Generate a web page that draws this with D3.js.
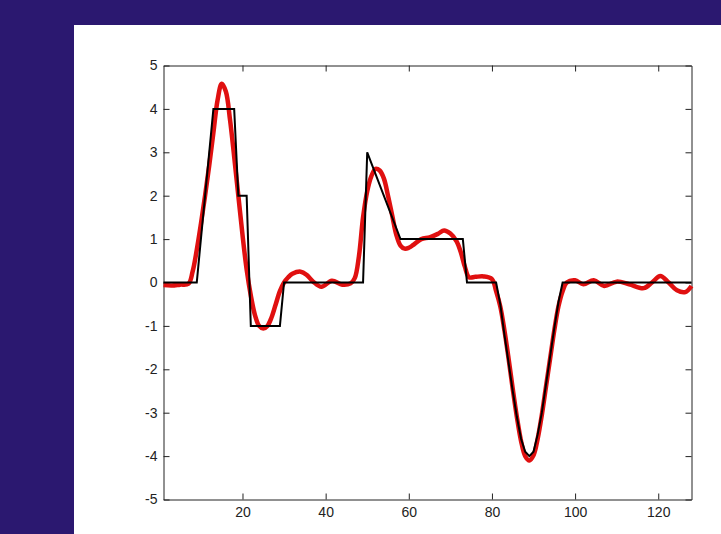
<!DOCTYPE html>
<html>
<head>
<meta charset="utf-8">
<script src="https://cdn.jsdelivr.net/npm/d3@7"></script>
<style>
  html, body { margin: 0; padding: 0; background: #2b1870; }
  svg { display: block; }
  .axis text { font-family: "Liberation Sans", Arial, sans-serif; font-size: 14px; fill: #222; }
  .axis path, .axis line { stroke: #222; }
</style>
</head>
<body>
<div id="chart"></div>
<script>

// black reference signal: breakpoints [x, value]
const targetX = [1, 9, 13, 18, 19, 21, 22, 29, 30, 49, 50, 58, 73, 74, 81, 82, 83, 84, 85, 86, 87, 88, 89,
    90, 91, 92, 93, 94, 95, 96, 97, 128];
const targetY = [0, 0, 4, 4, 2, 2, -1, -1, 0, 0, 3, 1, 1, 0, 0, -0.5, -1.2, -1.85, -2.5, -3.1, -3.6, -3.9, -4,
    -3.9, -3.5, -3.0, -2.35, -1.7, -1.05, -0.45, 0, 0];

// red reconstructed signal
const fitX = [1, 3, 5, 7, 8, 9, 10, 11, 12, 13, 14, 15, 16, 17, 18, 19, 20, 21, 22, 23, 24, 25, 26, 27, 28, 29,
    30, 31, 32, 34, 35.5, 37, 39, 41.5, 44, 46, 47, 48, 49, 50, 51, 52, 53, 54, 55, 56, 57, 58, 59, 60, 61,
    63, 65, 67, 68.5, 70, 71.5, 72.5, 73.5, 74.5, 76, 78, 80, 81, 82, 83, 84, 85, 86, 87, 88, 89, 90, 91,
    92, 93, 94, 95, 96, 97, 98, 100, 102, 104.5, 107, 110, 113, 116.5, 118.5, 120.5, 122.5, 124.5, 126.5, 128];
const fitY = [-0.06, -0.07, -0.05, -0.03, 0.25, 0.75, 1.35, 2.0, 2.7, 3.45, 4.2, 4.58, 4.4, 3.75, 2.9, 2.0, 1.1,
    0.3, -0.3, -0.75, -1.0, -1.06, -1.0, -0.8, -0.5, -0.2, 0.0, 0.12, 0.2, 0.25, 0.17, 0.02, -0.1, 0.04, -0.05,
    -0.02, 0.1, 0.6, 1.5, 2.1, 2.45, 2.62, 2.58, 2.4, 2.0, 1.55, 1.1, 0.85, 0.78, 0.8, 0.86,
    1.0, 1.04, 1.12, 1.2, 1.13, 0.95, 0.7, 0.36, 0.12, 0.13, 0.14, 0.08, -0.2, -0.55, -1.1, -1.75, -2.45, -3.1,
    -3.65, -4.0, -4.1, -3.98, -3.6, -3.05, -2.4, -1.75, -1.1, -0.55, -0.2, 0.0, 0.05, -0.04, 0.05, -0.08, 0.02,
    -0.04, -0.13, 0.0, 0.15, 0.0, -0.18, -0.22, -0.08];

const xTicks = [20, 40, 60, 80, 100, 120];
const yTicks = [-5, -4, -3, -2, -1, 0, 1, 2, 3, 4, 5];

const svgWidth = 721, svgHeight = 534;
const margin = { top: 65.5, right: 29.5, bottom: 34.5, left: 163.5 };
const width = svgWidth - margin.left - margin.right;
const height = svgHeight - margin.top - margin.bottom;

const svg = d3.select('#chart')
    .append('svg')
    .attr('width', svgWidth)
    .attr('height', svgHeight);

svg.append('rect')
    .attr('width', svgWidth).attr('height', svgHeight)
    .attr('fill', '#2b1870');

svg.append('rect')
    .attr('x', 74).attr('y', 25)
    .attr('width', svgWidth - 74).attr('height', svgHeight - 25)
    .attr('fill', '#ffffff');

const bounds = svg.append('g')
    .attr('transform', `translate(${margin.left}, ${margin.top})`);

const xScale = d3.scaleLinear().domain([1, 128]).range([0, width]);
const yScale = d3.scaleLinear().domain([-5, 5]).range([height, 0]);

// axes, MATLAB style: inward ticks, boxed
bounds.append('g')
    .attr('class', 'axis')
    .attr('transform', `translate(0, ${height})`)
    .call(d3.axisBottom(xScale).tickValues(xTicks).tickSize(-6).tickSizeOuter(0).tickPadding(8));

bounds.append('g')
    .attr('class', 'axis')
    .call(d3.axisTop(xScale).tickValues(xTicks).tickSize(-6).tickSizeOuter(0).tickFormat(''));

bounds.append('g')
    .attr('class', 'axis')
    .call(d3.axisLeft(yScale).tickValues(yTicks).tickSize(-6).tickSizeOuter(0).tickPadding(6)
        .tickFormat(d => d));

bounds.append('g')
    .attr('class', 'axis')
    .attr('transform', `translate(${width}, 0)`)
    .call(d3.axisRight(yScale).tickValues(yTicks).tickSize(-6).tickSizeOuter(0).tickFormat(''));

// minus sign as in the picture (hyphen)
bounds.selectAll('.axis text').text(function () { return this.textContent.replace('\u2212', '-'); });

const fitLine = d3.line()
    .x((d, i) => xScale(fitX[i]))
    .y(d => yScale(d))
    .curve(d3.curveCatmullRom.alpha(0.5));

const targetLine = d3.line()
    .x((d, i) => xScale(targetX[i]))
    .y(d => yScale(d));

bounds.append('path')
    .datum(fitY)
    .attr('d', fitLine)
    .attr('fill', 'none')
    .attr('stroke', '#e01010')
    .attr('stroke-width', 4.5)
    .attr('stroke-linejoin', 'round');

bounds.append('path')
    .datum(targetY)
    .attr('d', targetLine)
    .attr('fill', 'none')
    .attr('stroke', '#000')
    .attr('stroke-width', 2);

</script>
</body>
</html>
